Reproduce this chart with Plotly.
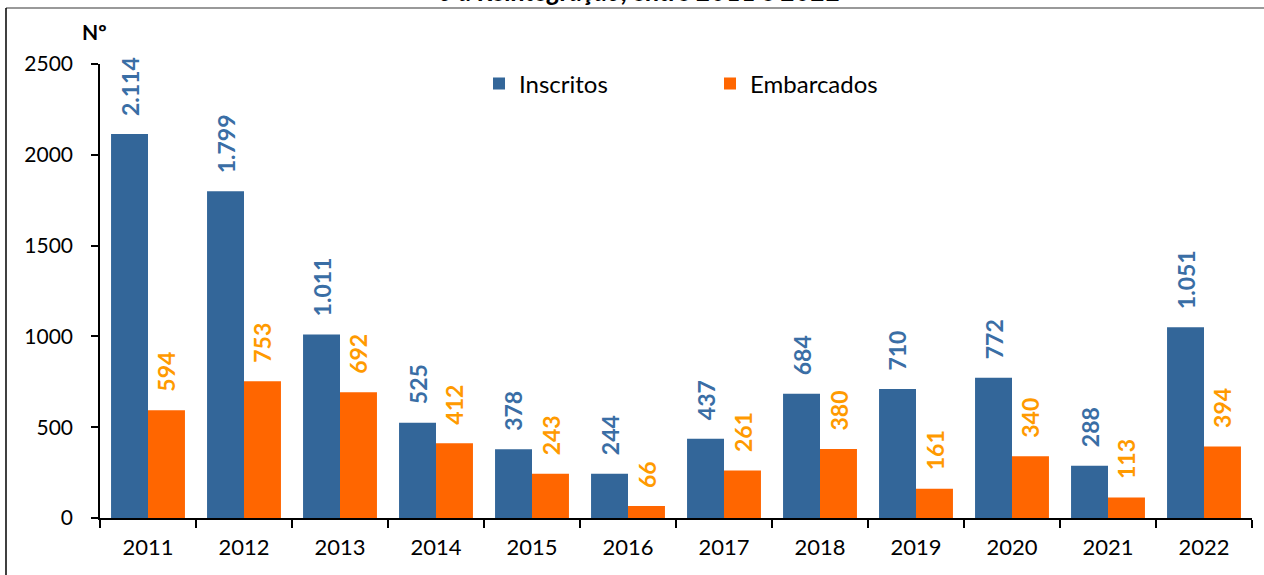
import plotly.graph_objects as go

years = ["2011", "2012", "2013", "2014", "2015", "2016", "2017", "2018", "2019", "2020", "2021", "2022"]
inscritos = [2114, 1799, 1011, 525, 378, 244, 437, 684, 710, 772, 288, 1051]
embarcados = [594, 753, 692, 412, 243, 66, 261, 380, 161, 340, 113, 394]
y_ticks = [0, 500, 1000, 1500, 2000, 2500]

BLUE = "#336699"
ORANGE = "#FF6600"
BLUE_TXT = "#3A6EA5"
ORANGE_TXT = "#FF9A00"
FONT = "Lato"

def fmt(v):
    return f"{v:,}".replace(",", ".")

fig = go.Figure()
fig.add_trace(go.Bar(x=years, y=inscritos, name="Inscritos", marker_color=BLUE, marker_line_width=0))
fig.add_trace(go.Bar(x=years, y=embarcados, name="Embarcados", marker_color=ORANGE, marker_line_width=0))

ann = []
for i, yr in enumerate(years):
    ann.append(dict(x=i, y=inscritos[i], xref="x", yref="y", text="<b>" + fmt(inscritos[i]) + "</b>",
                    showarrow=False, textangle=-90, xanchor="center", yanchor="bottom", xshift=-18.5, yshift=16,
                    font=dict(family=FONT, size=23, color=BLUE_TXT)))
    ann.append(dict(x=i, y=embarcados[i], xref="x", yref="y", text="<b>" + fmt(embarcados[i]) + "</b>",
                    showarrow=False, textangle=-90, xanchor="center", yanchor="bottom", xshift=18.5, yshift=16,
                    font=dict(family=FONT, size=23, color=ORANGE_TXT)))

ann.append(dict(x=-0.005, y=1.0705, xref="paper", yref="paper", text="<b>Nº</b>", showarrow=False,
                xanchor="center", yanchor="middle", font=dict(family=FONT, size=21, color="black")))
ann.append(dict(x=0.46875, y=1.1205, xref="paper", yref="paper",
                text="<b><i>o à Reintegração, entre 2011 e 2022</i></b>", showarrow=False,
                xanchor="center", yanchor="bottom", font=dict(family=FONT, size=26, color="black")))

shapes = [
    dict(type="line", xref="paper", yref="paper", x0=-0.0816, x1=1.02, y0=1.1233, y1=1.1233,
         line=dict(color="#999999", width=2)),
    dict(type="line", xref="paper", yref="paper", x0=-0.0816, x1=-0.0816, y0=1.1233, y1=-0.13,
         line=dict(color="black", width=1.5)),
]

fig.update_layout(
    width=1264, height=575,
    margin=dict(l=100, r=12, t=64, b=57, autoexpand=False),
    paper_bgcolor="white", plot_bgcolor="white",
    barmode="group", bargap=0.23, bargroupgap=0,
    font=dict(family=FONT, size=21, color="black"),
    showlegend=True,
    legend=dict(orientation="h", x=0.329, y=0.956, xanchor="left", yanchor="middle",
                entrywidth=186, entrywidthmode="pixels", font=dict(family=FONT, size=24),
                bgcolor="rgba(0,0,0,0)", itemwidth=30),
    annotations=ann,
    shapes=shapes,
)
fig.update_xaxes(type="category", range=[-0.5, len(years) - 0.5], showline=True, linecolor="black",
                 linewidth=1.5, ticks="outside", tickson="boundaries", ticklen=8, tickcolor="black",
                 tickwidth=1.5, showgrid=False,
                 tickfont=dict(family=FONT, size=22, color="black"), ticklabelstandoff=9)
fig.update_yaxes(range=[0, 2500], tickvals=y_ticks, showline=True, linecolor="black", linewidth=1.5,
                 ticks="outside", ticklen=7, tickcolor="black", tickwidth=1.5, showgrid=False,
                 zeroline=False, tickfont=dict(family=FONT, size=21, color="black"), ticklabelstandoff=14)

fig.write_html("out.html", config={"displayModeBar": False},
               post_script="document.body.style.margin='0';")
